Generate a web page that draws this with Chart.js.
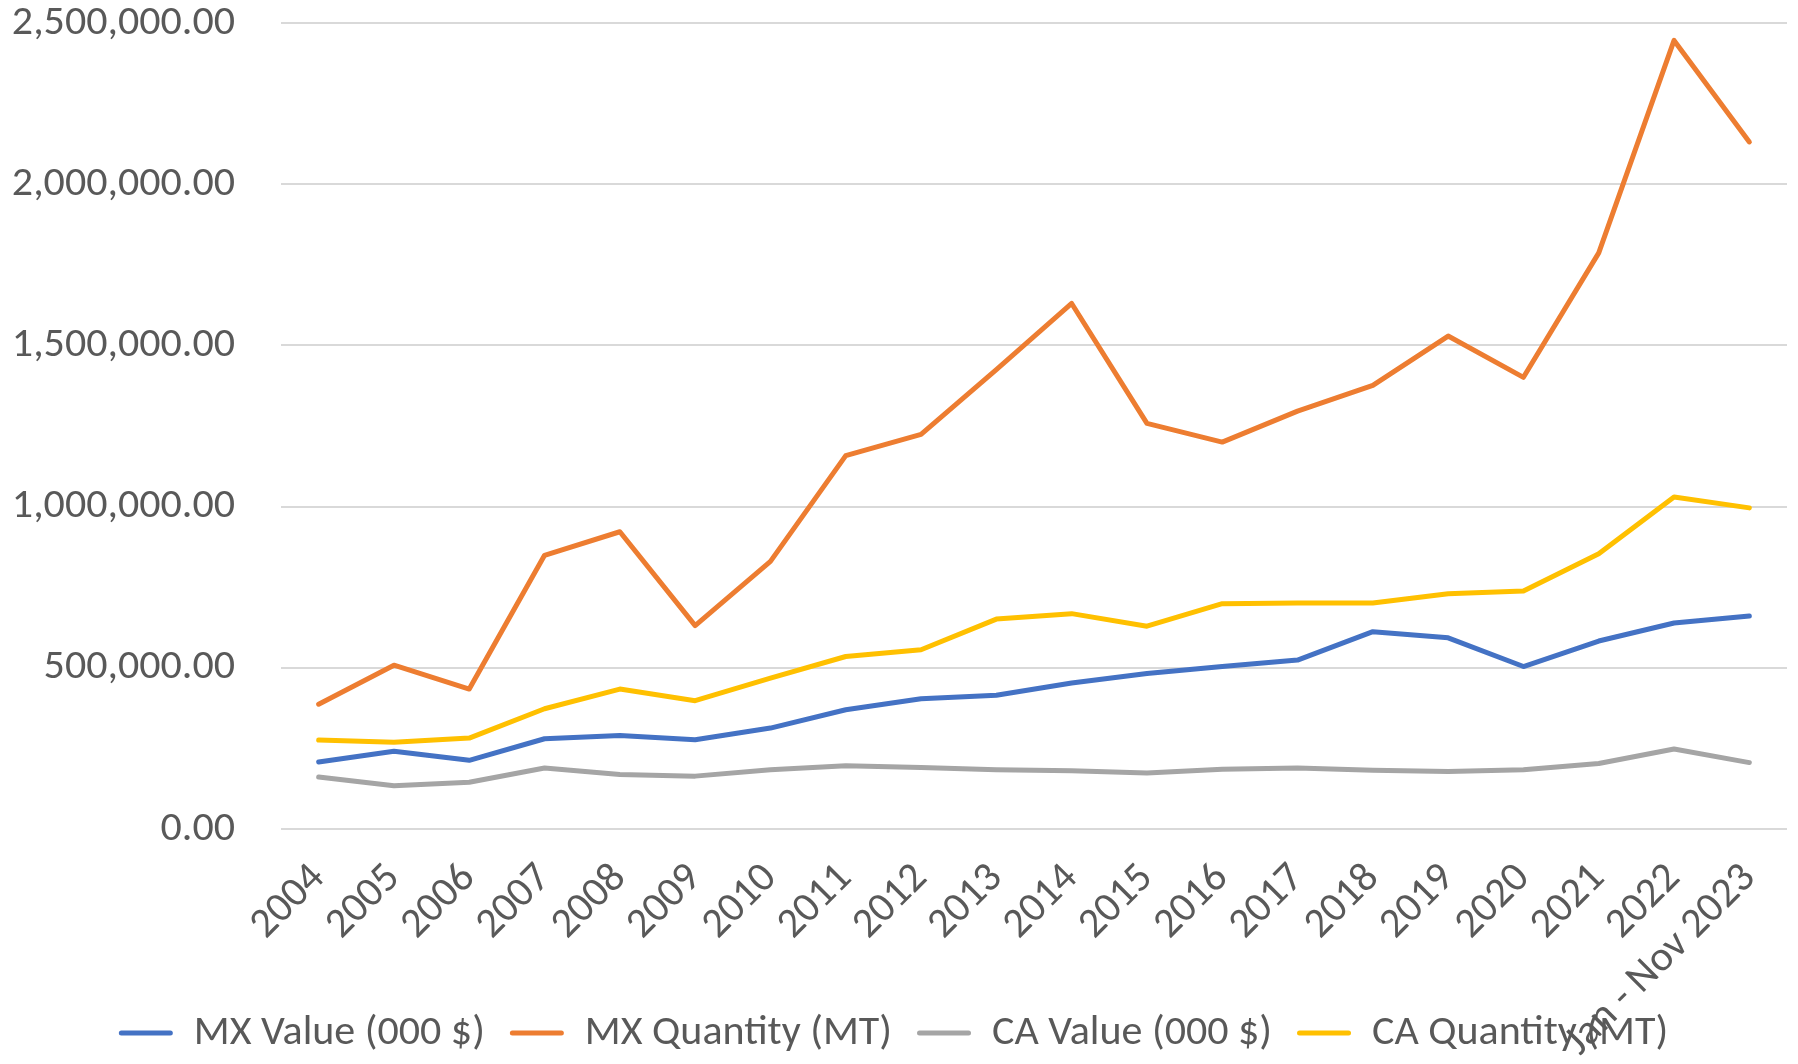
<!DOCTYPE html>
<html>
<head>
<meta charset="utf-8">
<script src="https://cdn.jsdelivr.net/npm/chart.js@4/dist/chart.umd.min.js"></script>
<style>
    html, body { margin: 0; padding: 0; background: #ffffff; }
    #wrap { width: 1798px; height: 1064px; position: relative; }
</style>
</head>
<body>
<div id="wrap"><canvas id="trade-chart"></canvas></div>
<script>
// Categories and series
const years = ['2004', '2005', '2006', '2007', '2008', '2009', '2010', '2011', '2012', '2013',
    '2014', '2015', '2016', '2017', '2018', '2019', '2020', '2021', '2022', 'Jan - Nov 2023'];

const mxValue = [208000, 241000, 213000, 280000, 290000, 277000, 313000, 370000, 404000, 415000,
    453000, 482000, 504000, 524000, 612000, 593000, 504000, 583000, 639000, 661000];
const mxQuantity = [387000, 508000, 434000, 849000, 922000, 631000, 830000, 1158000, 1224000, 1425000,
    1630000, 1258000, 1200000, 1296000, 1376000, 1529000, 1401000, 1787000, 2446000, 2131000];
const caValue = [161000, 134000, 145000, 189000, 169000, 164000, 184000, 196000, 191000, 184000,
    181000, 174000, 185000, 189000, 182000, 178000, 184000, 203000, 248000, 206000];
const caQuantity = [276000, 269000, 282000, 373000, 434000, 398000, 468000, 535000, 556000, 651000,
    668000, 629000, 699000, 701000, 701000, 730000, 738000, 854000, 1030000, 996000];

const yTicks = [0, 500000, 1000000, 1500000, 2000000, 2500000];

const TEXT = '#595959';
const FONT = "Carlito, Lato, 'Noto Sans', sans-serif";
const FONT_SIZE = 42;

function series(label, data, color) {
    return {
        label: label,
        data: data,
        borderColor: color,
        backgroundColor: color,
        borderWidth: 5,
        borderCapStyle: 'round',
        borderJoinStyle: 'round',
        pointRadius: 0,
        pointHoverRadius: 0,
        tension: 0,
        fill: false
    };
}

Chart.defaults.font.family = FONT;
Chart.defaults.color = TEXT;

new Chart(document.getElementById('trade-chart'), {
    type: 'line',
    data: {
        labels: years,
        datasets: [
            series('MX Value (000 $)', mxValue, '#4472C4'),
            series('MX Quantity (MT)', mxQuantity, '#ED7D31'),
            series('CA Value (000 $)', caValue, '#A5A5A5'),
            series('CA Quantity (MT)', caQuantity, '#FFC000')
        ]
    },
    options: {
        responsive: true,
        maintainAspectRatio: false,
        animation: false,
        layout: { padding: { left: 0, right: 11, top: 0, bottom: 0 } },
        scales: {
            x: {
                offset: true,
                grid: { display: false },
                border: { display: false },
                ticks: {
                    autoSkip: false,
                    minRotation: 45,
                    maxRotation: 45,
                    padding: 17,
                    color: TEXT,
                    font: { size: FONT_SIZE }
                },
                afterFit: (scale) => {
                    scale.height = 158;
                    scale.paddingLeft = 0;
                    scale.paddingRight = 0;
                    // the long last label runs into the legend, as in the original
                    scale._computeLabelArea = () => undefined;
                }
            },
            y: {
                min: 0,
                max: 2500000,
                afterBuildTicks: (scale) => {
                    scale.ticks = yTicks.map(v => ({ value: v }));
                },
                grid: { color: '#D9D9D9', lineWidth: 2, drawTicks: false },
                border: { display: false },
                ticks: {
                    padding: 46,
                    color: TEXT,
                    font: { size: FONT_SIZE },
                    callback: (value) => value.toLocaleString('en-US', {
                        minimumFractionDigits: 2, maximumFractionDigits: 2
                    })
                },
                afterFit: (scale) => {
                    scale.width = 281;
                    // keep only half a label of room above the top gridline
                    scale.paddingTop = 23;
                    scale.paddingBottom = 23;
                }
            }
        },
        plugins: {
            legend: {
                display: true,
                position: 'bottom',
                labels: {
                    color: TEXT,
                    font: { size: FONT_SIZE },
                    boxWidth: 54,
                    boxHeight: 5,
                    padding: 25,
                    generateLabels: (chart) => {
                        const items = Chart.defaults.plugins.legend.labels.generateLabels(chart);
                        return items.map(item => Object.assign(item, { lineWidth: 0, borderRadius: 2.5 }));
                    }
                }
            },
            tooltip: { enabled: false }
        }
    }
});
</script>
</body>
</html>
